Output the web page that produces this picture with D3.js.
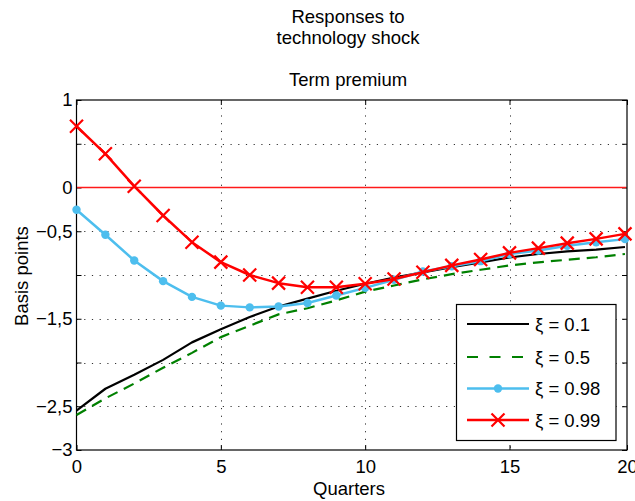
<!DOCTYPE html>
<html>
<head>
<meta charset="utf-8">
<script src="https://cdn.jsdelivr.net/npm/d3@7/dist/d3.min.js"></script>
<style>
  html, body { margin: 0; padding: 0; background: #fff; }
  svg { display: block; font-family: "Liberation Sans", Arial, sans-serif; }
</style>
</head>
<body>
<svg id="chart" width="635" height="501"></svg>
<script>
// ---- data ----
const quarters = d3.range(0, 20);
const seriesNames = ["ξ = 0.1", "ξ = 0.5", "ξ = 0.98", "ξ = 0.99"];
const xi01 = [-2.55, -2.30, -2.14, -1.97, -1.77, -1.62, -1.48, -1.36, -1.27, -1.18, -1.10, -1.03, -0.97, -0.91, -0.855, -0.80, -0.76, -0.73, -0.71, -0.68];
const xi05 = [-2.60, -2.41, -2.24, -2.06, -1.89, -1.71, -1.58, -1.45, -1.38, -1.29, -1.19, -1.12, -1.05, -0.99, -0.94, -0.89, -0.855, -0.826, -0.797, -0.76];
const xi098 = [-0.255, -0.54, -0.834, -1.07, -1.25, -1.35, -1.37, -1.36, -1.32, -1.235, -1.147, -1.055, -0.96, -0.90, -0.842, -0.76, -0.72, -0.665, -0.625, -0.59];
const xi099 = [0.70, 0.385, 0.015, -0.32, -0.625, -0.853, -1.0, -1.093, -1.139, -1.14, -1.10, -1.045, -0.968, -0.89, -0.823, -0.747, -0.693, -0.636, -0.587, -0.53];
const zeroLine = [0, 0];
const yTickValues = [1, 0.5, 0, -0.5, -1, -1.5, -2, -2.5, -3];
const yTickLabels = ["1", "", "0", "−0,5", "", "−1,5", "", "−2,5", "−3"];
const xTickLabels = ["0", "5", "10", "15", "20"];
const titleLines = ["Responses to", "technology shock"];
const subTitle = "Term premium";
const xLabel = "Quarters";
const yLabel = "Basis points";

// ---- layout ----
const svg = d3.select("#chart");
const L = 76.5, R = 627, T = 100, B = 450;
const xMax = 19.07;
const x = d3.scaleLinear().domain([0, xMax]).range([L, R]);
const y = d3.scaleLinear().domain([-3, 1]).range([B, T]);
const xTickValues = [0, 5, 10, 15, xMax];
const fontSize = 18.5;

// grid
const grid = svg.append("g").attr("stroke", "#333").attr("stroke-width", 1)
  .attr("stroke-dasharray", "1.2,6.5").attr("fill", "none");
yTickValues.filter(v => v > -3 && v < 1 && v !== 0).forEach(v => {
  grid.append("line").attr("x1", L).attr("x2", R)
    .attr("y1", Math.round(y(v)) + 0.5).attr("y2", Math.round(y(v)) + 0.5);
});
[5, 10, 15].forEach(v => {
  grid.append("line").attr("y1", T).attr("y2", B)
    .attr("x1", Math.round(x(v)) + 0.5).attr("x2", Math.round(x(v)) + 0.5);
});

// axes via d3
const yAxisL = d3.axisLeft(y).tickValues(yTickValues).tickSizeInner(-5).tickSizeOuter(0)
  .tickPadding(4).tickFormat((d, i) => yTickLabels[i]);
const yAxisR = d3.axisRight(y).tickValues(yTickValues).tickSizeInner(-5).tickSizeOuter(0).tickFormat("");
const xAxisB = d3.axisBottom(x).tickValues(xTickValues).tickSizeInner(-5).tickSizeOuter(0)
  .tickPadding(10).tickFormat((d, i) => xTickLabels[i]);
const xAxisT = d3.axisTop(x).tickValues(xTickValues).tickSizeInner(-5).tickSizeOuter(0).tickFormat("");

function styleAxis(g) {
  g.select(".domain").remove();
  g.selectAll("line").attr("stroke", "#000");
  g.selectAll("text").attr("fill", "#000").style("font-size", fontSize + "px")
    .style("font-family", "'Liberation Sans', Arial, sans-serif");
}
svg.append("g").attr("transform", `translate(${L},0)`).call(yAxisL).call(styleAxis);
svg.append("g").attr("transform", `translate(${R},0)`).call(yAxisR).call(styleAxis);
svg.append("g").attr("transform", `translate(0,${B})`).call(xAxisB).call(styleAxis);
svg.append("g").attr("transform", `translate(0,${T})`).call(xAxisT).call(styleAxis);

// zero line (red, thin)
svg.append("path")
  .datum(zeroLine)
  .attr("d", d3.line().x((d, i) => i === 0 ? L + 0.6 : R - 0.6).y(d => Math.round(y(d)) - 0.5))
  .attr("stroke", "#ff1a1a").attr("stroke-width", 1.6).attr("fill", "none");

// frame
svg.append("rect").attr("x", L).attr("y", T).attr("width", R - L).attr("height", B - T)
  .attr("fill", "none").attr("stroke", "#000").attr("stroke-width", 1.2);

// series
const series = [
  { name: seriesNames[0], values: xi01, color: "#000000", dash: null, marker: null, width: 2.2 },
  { name: seriesNames[1], values: xi05, color: "#008000", dash: "11,7", marker: null, width: 2.2 },
  { name: seriesNames[2], values: xi098, color: "#4DBEEE", dash: null, marker: "circle", width: 2.5 },
  { name: seriesNames[3], values: xi099, color: "#ff0000", dash: null, marker: "x", width: 2.5 }
];
const line = d3.line().x((d, i) => x(quarters[i])).y(d => y(d));
const plot = svg.append("g");

function drawMarker(g, type, cx, cy, color) {
  if (type === "circle") {
    g.append("circle").attr("cx", cx).attr("cy", cy).attr("r", 4.2).attr("fill", color);
  } else if (type === "x") {
    const s = 6.5;
    g.append("path").attr("d", `M${cx - s},${cy - s}L${cx + s},${cy + s}M${cx - s},${cy + s}L${cx + s},${cy - s}`)
      .attr("stroke", color).attr("stroke-width", 2.2).attr("fill", "none");
  }
}

series.forEach(s => {
  plot.append("path").datum(s.values).attr("d", line)
    .attr("fill", "none").attr("stroke", s.color).attr("stroke-width", s.width)
    .attr("stroke-dasharray", s.dash).attr("stroke-linejoin", "round");
  if (s.marker) {
    s.values.forEach((v, i) => drawMarker(plot, s.marker, x(quarters[i]), y(v), s.color));
  }
});

// legend
const lg = svg.append("g");
lg.append("rect").attr("x", 456.5).attr("y", 304.5).attr("width", 159.5).attr("height", 136)
  .attr("fill", "#fff").attr("stroke", "#000").attr("stroke-width", 1.2);
const rowY = [324, 357, 388.5, 420];
series.forEach((s, i) => {
  lg.append("line").attr("x1", 467).attr("x2", 529).attr("y1", rowY[i]).attr("y2", rowY[i])
    .attr("stroke", s.color).attr("stroke-width", s.width)
    .attr("stroke-dasharray", s.dash ? "11,11.5" : null);
  if (s.marker) drawMarker(lg, s.marker, 498, rowY[i], s.color);
  lg.append("text").attr("x", 535).attr("y", rowY[i] + 6.5).text(s.name)
    .style("font-size", fontSize + "px").attr("fill", "#000");
});

// titles
const cx = 348;
titleLines.forEach((t, i) => {
  svg.append("text").attr("x", cx).attr("y", 23 + i * 20.5).attr("text-anchor", "middle")
    .style("font-size", fontSize + "px").text(t);
});
svg.append("text").attr("x", cx).attr("y", 86).attr("text-anchor", "middle")
  .style("font-size", fontSize + "px").text(subTitle);
svg.append("text").attr("x", 349).attr("y", 495).attr("text-anchor", "middle")
  .style("font-size", fontSize + "px").text(xLabel);
svg.append("text").attr("transform", "translate(28,276) rotate(-90)").attr("text-anchor", "middle")
  .style("font-size", fontSize + "px").text(yLabel);
</script>
</body>
</html>
